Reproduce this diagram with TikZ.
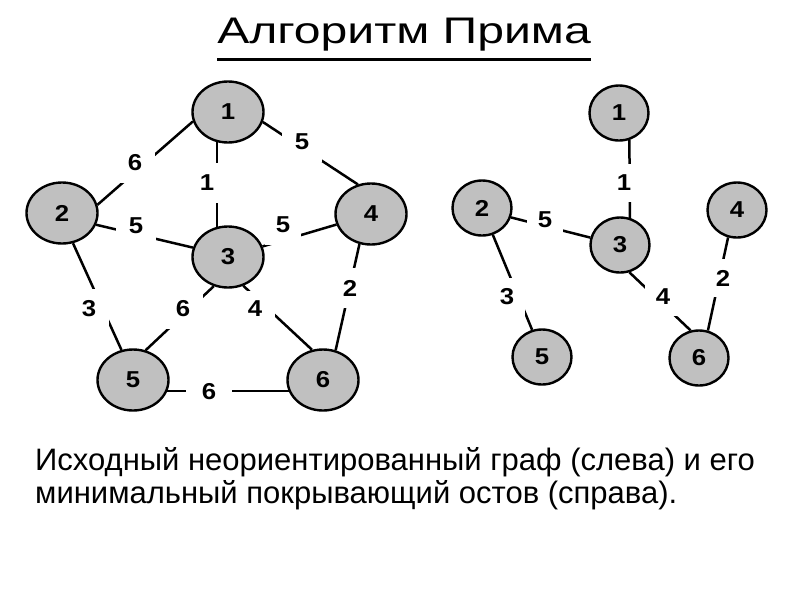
\documentclass[tikz,border=0pt]{standalone}
\usepackage{fontspec}
\setmainfont{Liberation Sans}
\newfontfamily\titlefont[FakeStretch=1.3]{Liberation Sans}
\newfontfamily\digitfont[FakeStretch=1.12]{Liberation Sans}
\usetikzlibrary{shapes.geometric}
\definecolor{nodegray}{RGB}{192,192,192}
\begin{document}
\begin{tikzpicture}[x=1pt,y=-1pt]

    \tikzset{
      vertex/.style={
        ellipse,
        draw,
        fill=nodegray,
        line width=2.4pt,
        inner sep=0pt,
        minimum width=71pt,
        minimum height=61pt,
        font=\digitfont\fontsize{23}{26}\selectfont\bfseries,
      },
      smallvertex/.style={
        vertex,
        minimum width=59pt,
        minimum height=55pt,
      },
      link/.style={
        line width=2.5pt,
      },
      wlabel/.style={
        fill=white,
        inner sep=0pt,
        minimum width=40pt,
        minimum height=40pt,
        font=\digitfont\fontsize{23}{26}\selectfont\bfseries,
      },
      swlabel/.style={
        wlabel,
        minimum width=36pt,
        minimum height=38pt,
      },
    }
    \useasboundingbox (0,0) rectangle (800,600);
	\node[anchor=base, inner sep=0pt, font=\titlefont\fontsize{37}{40}\selectfont] (title) at (404,43) {Алгоритм Прима};
	\draw[line width=3pt] ([yshift=-9pt]title.south west) -- ([yshift=-9pt]title.south east);
	% left graph
	\node[vertex] (l1) at (228,112) {1};
	\node[vertex] (l2) at (62,213) {2};
	\node[vertex] (l3) at (228,257) {3};
	\node[vertex] (l4) at (371,214) {4};
	\node[vertex] (l5) at (133,380) {5};
	\node[vertex] (l6) at (323,380) {6};
	\draw[link] (l1.195) -- (l2.13);
	\draw[link] (l1.250) -- (l3.110);
	\draw[link] (l1.344) -- (l4.114);
	\draw[link] (l2.341) -- (l3.165);
	\draw[link] (l3.17) -- (l4.197);
	\draw[link] (l2.290) -- (l5.111);
	\draw[link] (l3.244) -- (l5.67);
	\draw[link] (l3.298) -- (l6.110);
	\draw[link] (l4.249) -- (l6.67);
	\draw[link] (l5.342) -- (l6.198);
	\node[wlabel] (w12) at (135,163) {6};
	\node[wlabel] (w13) at (207,183) {1};
	\node[wlabel] (w14) at (302,142) {5};
	\node[wlabel] (w23) at (136,226) {5};
	\node[wlabel, minimum width=36pt] (w34) at (283,225) {5};
	\node[wlabel] (w25) at (89,309) {3};
	\node[wlabel] (w35) at (183,309) {6};
	\node[wlabel, minimum height=36pt] (w36) at (255,309) {4};
	\node[wlabel] (w46) at (350,288) {2};
	\node[wlabel, minimum width=46pt] (w56) at (209,392) {6};
	% right graph
	\node[smallvertex] (r1) at (619,113) {1};
	\node[smallvertex] (r2) at (482,208) {2};
	\node[smallvertex] (r3) at (620,245) {3};
	\node[smallvertex] (r4) at (737,210) {4};
	\node[smallvertex] (r5) at (542,357) {5};
	\node[smallvertex] (r6) at (699,358) {6};
	\draw[link] (r1.291) -- (r3.70);
	\draw[link] (r2.342) -- (r3.166);
	\draw[link] (r2.292) -- (r5.110);
	\draw[link] (r3.289) -- (r6.107);
	\draw[link] (r4.252) -- (r6.72);
	\node[swlabel] (v13) at (624,183) {1};
	\node[swlabel] (v23) at (545,220) {5};
	\node[swlabel] (v25) at (507,297) {3};
	\node[swlabel] (v36) at (663,297) {4};
	\node[swlabel] (v46) at (723,278) {2};
	% caption
	\node[anchor=base west, inner sep=0pt, font=\fontsize{31}{33}\selectfont] (desc1) at (35,470) {Исходный неориентированный граф (слева) и его};
	\node[anchor=base west, inner sep=0pt, font=\fontsize{31}{33}\selectfont] (desc2) at (35,503) {минимальный покрывающий остов (справа).};

\end{tikzpicture}
\end{document}
